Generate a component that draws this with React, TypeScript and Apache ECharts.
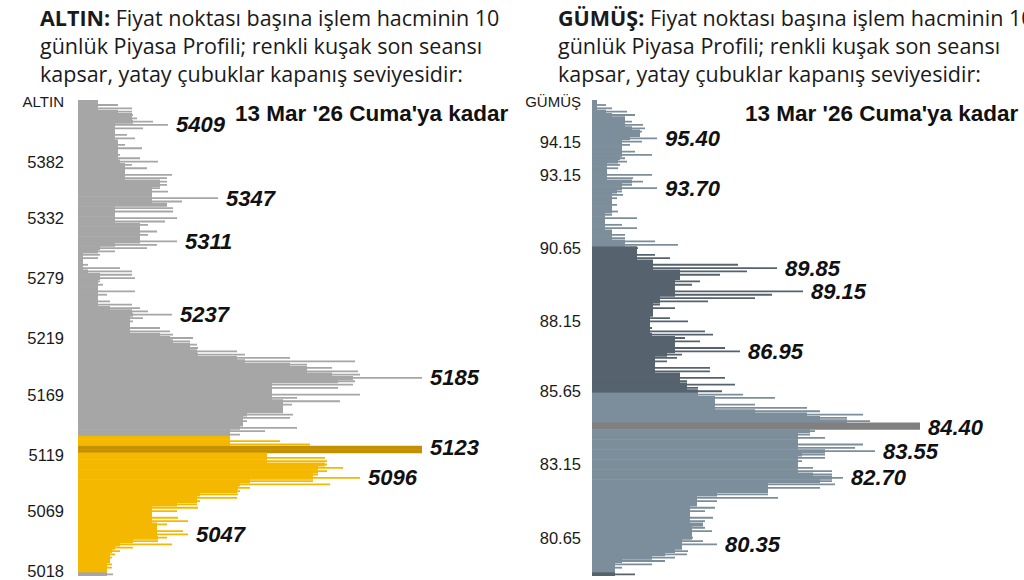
import React, { useEffect, useRef } from "react";
import * as echarts from "echarts";

// ---- ALTIN (gold) volume profile: one value per price row, top to bottom ----
const altinVolume = [
  20, 40, 54, 54, 55, 59, 75, 90, 65, 37,
  49, 57, 40, 47, 64, 40, 42, 62, 80, 54,
  69, 47, 94, 89, 89, 89, 82, 90, 74, 140,
  104, 89, 95, 95, 37, 99, 87, 70, 62, 79,
  70, 62, 99, 79, 69, 37, 22, 20, 5, 10,
  42, 54, 54, 57, 22, 25, 20, 57, 29, 20,
  32, 54, 62, 70, 94, 65, 55, 52, 82, 92,
  95, 115, 112, 119, 120, 159, 167, 212, 277, 229,
  254, 280, 282, 344, 277, 275, 260, 194, 282, 219,
  262, 214, 205, 205, 215, 212, 169, 165, 219, 187,
  162, 152, 202, 232, 344, 344, 189, 247, 249, 249,
  265, 249, 240, 282, 235, 252, 172, 162, 160, 159,
  122, 119, 120, 99, 74, 100, 110, 89, 79, 105,
  110, 89, 80, 94, 55, 42, 37, 34, 32, 34,
  34, 29, 35,
];

// ---- GÜMÜŞ (silver) volume profile ----
const gumusVolume = [
  5, 14, 20, 35, 43, 33, 40, 51, 53, 50,
  48, 65, 50, 38, 30, 43, 60, 33, 35, 28,
  26, 15, 60, 41, 51, 40, 65, 30, 31, 25,
  20, 25, 20, 26, 20, 45, 13, 30, 45, 20,
  33, 33, 63, 86, 46, 45, 63, 78, 61, 146,
  185, 155, 128, 88, 108, 100, 83, 211, 180, 163,
  116, 68, 83, 61, 61, 78, 96, 58, 60, 113,
  121, 93, 108, 83, 133, 148, 90, 85, 75, 63,
  118, 118, 88, 133, 95, 143, 106, 130, 151, 183,
  123, 163, 215, 228, 271, 255, 278, 328, 328, 223,
  218, 233, 206, 271, 263, 283, 233, 233, 210, 206,
  221, 240, 240, 251, 240, 243, 228, 176, 176, 186,
  125, 105, 123, 113, 98, 121, 113, 111, 113, 120,
  100, 101, 111, 125, 90, 96, 95, 83, 73, 60,
  30, 23, 43,
];

// tick labels (row index -> label)
const altinTickRows = [0, 18, 35, 53, 71, 88, 106, 123, 141];
const altinTickLabels = ["ALTIN", "5382", "5332", "5279", "5219", "5169", "5119", "5069", "5018"];
const gumusTickRows = [0, 12, 22, 44, 66, 87, 109, 131];
const gumusTickLabels = ["GÜMÜŞ", "94.15", "93.15", "90.65", "88.15", "85.65", "83.15", "80.65"];

// annotated price levels (row index -> text)
const altinPeakRows = [7, 29, 42, 64, 83, 104, 113, 130];
const altinPeakLabels = ["5409", "5347", "5311", "5237", "5185", "5123", "5096", "5047"];
const gumusPeakRows = [11, 26, 50, 57, 75, 98, 105, 113, 133];
const gumusPeakLabels = ["95.40", "93.70", "89.85", "89.15", "86.95", "84.40", "83.55", "82.70", "80.35"];

// last session band rows (inclusive ranges) and closing-level rows
const altinSessionRanges = [[101, 141]];
const altinCloseRows = [104, 105];
const gumusSessionRanges = [[44, 87], [142, 142]];
const gumusCloseRows = [97, 98];

const altinTitle = ["Fiyat noktası başına işlem hacminin 10", "günlük Piyasa Profili; renkli kuşak son seansı", "kapsar, yatay çubuklar kapanış seviyesidir:"];
const gumusTitle = altinTitle;
const dateText = "13 Mar '26 Cuma'ya kadar";

const SANS = "'Liberation Sans', Arial, sans-serif";
const TITLE_FONT = "'Open Sans', 'Noto Sans', sans-serif";

function makeColor(ranges: number[][], closeRows: number[], base: string, session: string, close: string) {
  return (i: number) => {
    if (closeRows.includes(i)) return close;
    for (const r of ranges) if (i >= r[0] && i <= r[1]) return session;
    return base;
  };
}

function coreOf(values: number[], closeRows: number[]) {
  return values.map((v, i) => {
    if (closeRows.includes(i)) return v;
    let m = v;
    for (let d = -2; d <= 2; d++) {
      const w = values[i + d];
      if (w !== undefined && w < m) m = w;
    }
    return m;
  });
}

function panel(
  g: number,
  values: number[],
  closeRows: number[],
  colorOf: (i: number) => string,
  peakRows: number[],
  peakLabels: string[]
) {
  const core = coreOf(values, closeRows);
  return [
    {
      type: "bar",
      xAxisIndex: g,
      yAxisIndex: g * 2,
      barWidth: 4,
      silent: true,
      z: 1,
      data: core.map((v, i) => ({ value: v, itemStyle: { color: colorOf(i) } })),
    },
    {
      type: "bar",
      xAxisIndex: g,
      yAxisIndex: g * 2 + 1,
      barWidth: 1.8,
      silent: true,
      z: 2,
      label: {
        show: false,
        position: "right",
        distance: 8,
        fontFamily: SANS,
        fontSize: 22,
        fontWeight: "bold",
        fontStyle: "italic",
        color: "#111",
      },
      data: values.map((v, i) => {
        const k = peakRows.indexOf(i);
        const item: any = { value: v, itemStyle: { color: colorOf(i) } };
        if (k >= 0) item.label = { show: true, formatter: peakLabels[k] };
        return item;
      }),
    },
  ];
}

function yAxes(g: number, n: number, tickRows: number[], tickLabels: string[], margin: number) {
  const data = Array.from({ length: n }, (_, i) => String(i));
  const common = {
    type: "category",
    gridIndex: g,
    data,
    inverse: true,
    axisLine: { show: false },
    axisTick: { show: false },
    splitLine: { show: false },
  };
  return [
    {
      ...common,
      axisLabel: {
        interval: 0,
        margin,
        formatter: (_v: string, idx: number) => {
          const k = tickRows.indexOf(idx);
          if (k < 0) return "";
          return k === 0 ? `{n|${tickLabels[k]}}` : `{t|${tickLabels[k]}}`;
        },
        rich: {
          n: { fontFamily: SANS, fontSize: 15, color: "#1a1a1a" },
          t: { fontFamily: SANS, fontSize: 16.5, color: "#1a1a1a" },
        },
      },
    },
    { ...common, axisLabel: { show: false } },
  ];
}

function titleText(x: number, name: string, lines: string[]) {
  return {
    type: "text",
    x,
    y: 3,
    style: {
      text: `{b|${name}} ${lines[0]}\n${lines.slice(1).join("\n")}`,
      fontFamily: TITLE_FONT,
      fontSize: 21.5,
      lineHeight: 28,
      fill: "#1a1a1a",
      verticalAlign: "top",
      rich: {
        b: { fontFamily: TITLE_FONT, fontSize: 21.5, fontWeight: "bold", lineHeight: 28, fill: "#1a1a1a" },
      },
    },
  };
}

export default function App() {
  const ref = useRef<HTMLDivElement>(null);
  useEffect(() => {
    if (!ref.current) return;
    const chart = echarts.init(ref.current, undefined, { renderer: "svg" });
    const altinColor = makeColor(altinSessionRanges, altinCloseRows, "#a6a6a6", "#f5b800", "#c29000");
    const gumusColor = makeColor(gumusSessionRanges, gumusCloseRows, "#7d8e9b", "#56636f", "#808080");
    const rowsH = 476;
    chart.setOption({
      animation: false,
      backgroundColor: "#ffffff",
      grid: [
        { left: 78, top: 100, width: 440, height: rowsH, outerBoundsMode: "none" },
        { left: 592, top: 100, width: 432, height: rowsH, outerBoundsMode: "none" },
      ],
      xAxis: [
        { type: "value", gridIndex: 0, min: 0, max: 440, show: false },
        { type: "value", gridIndex: 1, min: 0, max: 432, show: false },
      ],
      yAxis: [
        ...yAxes(0, altinVolume.length, altinTickRows, altinTickLabels, 14),
        ...yAxes(1, gumusVolume.length, gumusTickRows, gumusTickLabels, 11),
      ],
      series: [
        ...panel(0, altinVolume, altinCloseRows, altinColor, altinPeakRows, altinPeakLabels),
        ...panel(1, gumusVolume, gumusCloseRows, gumusColor, gumusPeakRows, gumusPeakLabels),
      ],
      graphic: [
        titleText(40, "ALTIN:", altinTitle),
        titleText(558, "GÜMÜŞ:", gumusTitle),
        {
          type: "text",
          x: 235,
          y: 113,
          style: { text: dateText, fontFamily: SANS, fontSize: 22.5, fontWeight: "bold", fill: "#111", verticalAlign: "middle" },
        },
        {
          type: "text",
          x: 745,
          y: 113,
          style: { text: dateText, fontFamily: SANS, fontSize: 22.5, fontWeight: "bold", fill: "#111", verticalAlign: "middle" },
        },
      ],
    });
    return () => chart.dispose();
  }, []);
  return (
    <div
      ref={ref}
      style={{ position: "fixed", left: 0, top: 0, width: 1024, height: 580, background: "#fff" }}
    />
  );
}
